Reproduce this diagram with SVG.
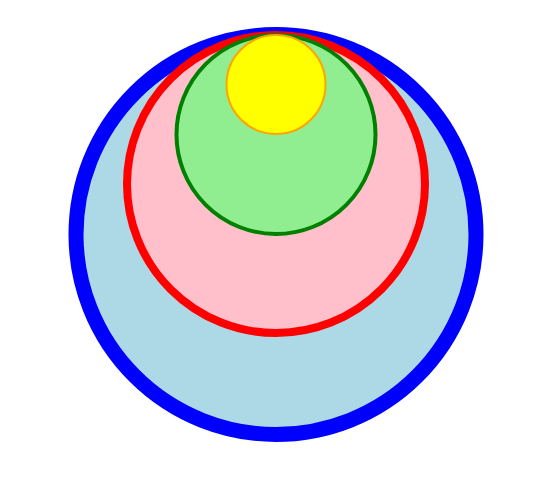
<svg xmlns="http://www.w3.org/2000/svg" width="549" height="481" viewBox="0 0 549 481">
<style>
.c1{fill:lightblue;stroke:blue;stroke-width:15}
.c2{fill:pink;stroke:red;stroke-width:8}
.c3{fill:lightgreen;stroke:green;stroke-width:4}
.c4{fill:yellow;stroke:orange;stroke-width:2}
</style>
<rect width="549" height="481" fill="#fff"/>
<circle class="c1" cx="276" cy="234.5" r="200"/>
<circle class="c2" cx="276" cy="184" r="149"/>
<circle class="c3" cx="276" cy="134.5" r="99.5"/>
<circle class="c4" cx="276" cy="84.5" r="49.5"/>
</svg>
